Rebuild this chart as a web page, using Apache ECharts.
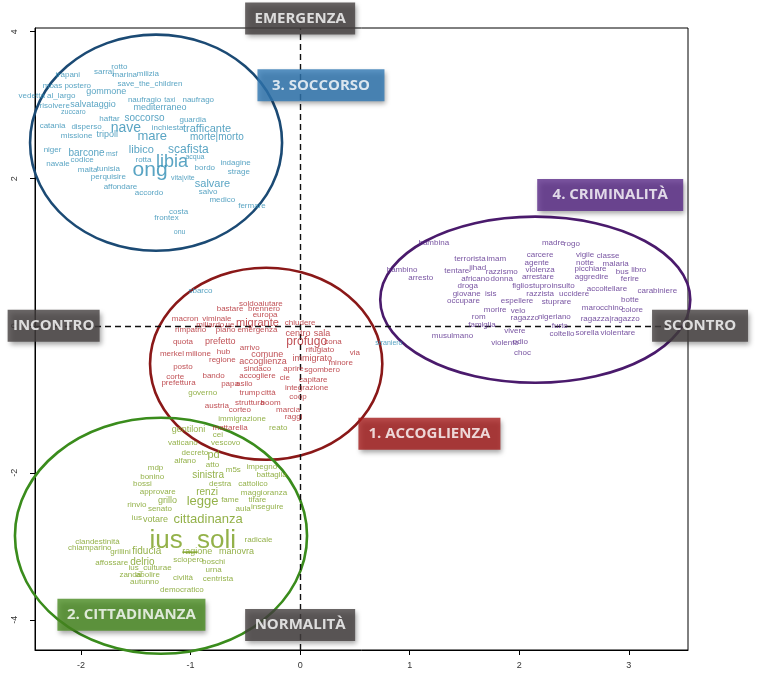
<!DOCTYPE html>
<html><head><meta charset="utf-8">
<script src="https://cdn.jsdelivr.net/npm/echarts@6/dist/echarts.min.js"></script>
<style>html,body{margin:0;padding:0;background:#fff}#c{width:761px;height:681px}</style>
</head><body><div id="c"></div>
<script>
// ---- DATA ----
const xTicks = [-2, -1, 0, 1, 2, 3];
const yTicks = [-4, -2, 0, 2, 4];

// [word, dim1, dim2, weight]
const soccorsoWords = [
  ["rotto",-1.65,3.52,2],["sarraj",-1.79,3.46,2],["marina",-1.60,3.41,2],["milizia",-1.39,3.43,2],
  ["trapani",-2.12,3.41,2],["save_the_children",-1.37,3.29,2],["moas",-2.26,3.27,2],["postero",-2.03,3.27,2],
  ["gommone",-1.77,3.18,3],["vedetta al_largo",-2.31,3.13,2],["naufragio",-1.42,3.07,2],["taxi",-1.19,3.07,1],
  ["naufrago",-0.93,3.07,2],["risolvere",-2.24,2.99,2],["salvataggio",-1.89,3.01,3],["mediterraneo",-1.28,2.97,3],
  ["zuccaro",-2.07,2.91,1],["haftar",-1.74,2.82,2],["soccorso",-1.42,2.82,4],["guardia",-0.98,2.80,2],
  ["catania",-2.26,2.72,2],["disperso",-1.95,2.71,2],["nave",-1.59,2.69,8],["inchiesta",-1.21,2.69,2],
  ["trafficante",-0.85,2.68,5],["missione",-2.04,2.59,2],["tripoli",-1.76,2.60,3],["mare",-1.35,2.57,7],
  ["morte|morto",-0.76,2.57,4],["niger",-2.26,2.39,2],["barcone",-1.95,2.35,4],["msf",-1.72,2.33,1],
  ["libico",-1.45,2.39,5],["scafista",-1.02,2.39,6],["acqua",-0.96,2.30,1],["codice",-1.99,2.26,2],
  ["navale",-2.21,2.20,2],["rotta",-1.43,2.26,2],["libia",-1.17,2.23,12],["bordo",-0.87,2.15,2],
  ["indagine",-0.59,2.22,2],["strage",-0.56,2.10,2],["ong",-1.37,2.12,15],["malta",-1.94,2.12,2],
  ["tunisia",-1.75,2.14,2],["vita|vite",-1.07,2.01,1],["perquisire",-1.75,2.03,2],["salvare",-0.80,1.93,5],
  ["affondare",-1.64,1.89,2],["accordo",-1.38,1.81,2],["salvo",-0.84,1.82,2],["medico",-0.71,1.71,2],
  ["fermare",-0.44,1.63,2],["costa",-1.11,1.55,2],["frontex",-1.22,1.47,2],["onu",-1.10,1.27,1],
  ["sbarco",-0.91,0.48,2],["straniero",0.81,-0.23,1]
];

const criminalitaWords = [
  ["bambina",1.22,1.13,2],["madre",2.31,1.13,2],["rogo",2.48,1.12,2],["terrorista",1.55,0.91,2],
  ["imam",1.79,0.91,2],["carcere",2.19,0.97,2],["vigile",2.60,0.97,2],["classe",2.81,0.95,2],
  ["agente",2.16,0.86,2],["notte",2.60,0.86,2],["malaria",2.88,0.84,2],["bambino",0.93,0.76,2],
  ["tentare",1.43,0.75,2],["jihad",1.62,0.79,2],["razzismo",1.84,0.73,2],["violenza",2.19,0.76,2],
  ["picchiare",2.65,0.78,2],["bus",2.94,0.73,2],["libro",3.09,0.76,2],["arresto",1.10,0.65,2],
  ["africano",1.60,0.64,2],["donna",1.84,0.64,2],["arrestare",2.17,0.67,2],["aggredire",2.66,0.67,2],
  ["ferire",3.01,0.64,2],["droga",1.53,0.54,2],["figlio",2.01,0.54,2],["stupro",2.19,0.54,2],
  ["insulto",2.40,0.54,2],["accoltellare",2.80,0.50,2],["carabiniere",3.26,0.48,2],["giovane",1.52,0.44,2],
  ["isis",1.74,0.44,2],["razzista",2.19,0.44,2],["uccidere",2.50,0.44,2],["botte",3.01,0.35,2],
  ["occupare",1.49,0.34,2],["espellere",1.98,0.34,2],["stuprare",2.34,0.33,2],["morire",1.78,0.22,2],
  ["velo",1.99,0.20,2],["marocchino",2.76,0.24,2],["colore",3.03,0.22,2],["rom",1.63,0.12,2],
  ["ragazzo",2.05,0.11,2],["nigeriano",2.32,0.12,2],["ragazza|ragazzo",2.83,0.10,2],["famiglia",1.66,0.01,2],
  ["furto",2.37,0.0,2],["vivere",1.96,-0.07,2],["coltello",2.39,-0.11,2],["sorella",2.62,-0.10,2],
  ["violentare",2.90,-0.10,2],["musulmano",1.39,-0.14,2],["violento",1.87,-0.23,2],["odio",2.01,-0.22,2],
  ["choc",2.03,-0.37,2]
];

const accoglienzaWords = [
  ["soldo",-0.47,0.30,2],["aiutare",-0.27,0.30,2],["bastare",-0.64,0.23,2],["brennero",-0.33,0.23,2],
  ["europa",-0.32,0.15,2],["macron",-1.05,0.10,2],["viminale",-0.76,0.10,2],["migrante",-0.39,0.04,5],
  ["miliardo",-0.82,0.01,2],["ue",-0.64,0.01,2],["chiudere",0.0,0.04,2],["rimpatrio",-1.00,-0.05,2],
  ["piano",-0.68,-0.05,2],["emergenza",-0.39,-0.05,2],["centro",-0.02,-0.10,3],["sala",0.20,-0.10,3],
  ["profugo",0.06,-0.22,6],["cona",0.30,-0.22,2],["quota",-1.07,-0.22,2],["prefetto",-0.73,-0.22,3],
  ["arrivo",-0.46,-0.30,2],["rifugiato",0.18,-0.33,2],["via",0.50,-0.37,2],["merkel",-1.17,-0.38,2],
  ["milione",-0.93,-0.38,2],["hub",-0.70,-0.35,2],["comune",-0.30,-0.39,3],["immigrato",0.11,-0.44,3],
  ["regione",-0.71,-0.46,2],["accoglienza",-0.34,-0.49,3],["minore",0.37,-0.50,2],["posto",-1.07,-0.56,2],
  ["sindaco",-0.39,-0.59,2],["aprire",-0.06,-0.59,2],["sgombero",0.20,-0.60,2],["bando",-0.79,-0.68,2],
  ["accogliere",-0.39,-0.68,2],["corte",-1.14,-0.69,2],["cie",-0.14,-0.71,2],["capitare",0.12,-0.73,2],
  ["prefettura",-1.11,-0.78,2],["papa",-0.64,-0.79,2],["asilo",-0.51,-0.79,2],["integrazione",0.06,-0.84,2],
  ["trump",-0.46,-0.91,2],["città",-0.29,-0.91,2],["coop",-0.02,-0.97,2],["austria",-0.76,-1.09,2],
  ["struttura",-0.46,-1.05,2],["boom",-0.27,-1.05,2],["corteo",-0.55,-1.14,2],["marcia",-0.11,-1.14,2],
  ["raggi",-0.06,-1.24,2],["mattarella",-0.64,-1.39,2]
];

const cittadinanzaWords = [
  ["governo",-0.89,-0.91,2],["immigrazione",-0.53,-1.27,2],["reato",-0.20,-1.39,2],["gentiloni",-1.02,-1.41,3],
  ["cei",-0.75,-1.48,2],["vaticano",-1.07,-1.59,2],["vescovo",-0.68,-1.59,2],["decreto",-0.96,-1.73,2],
  ["pd",-0.79,-1.76,5],["alfano",-1.05,-1.84,2],["atto",-0.80,-1.89,2],["mdp",-1.32,-1.93,2],
  ["m5s",-0.61,-1.96,2],["impegno",-0.35,-1.92,2],["bonino",-1.35,-2.05,2],["sinistra",-0.84,-2.03,4],
  ["battaglia",-0.26,-2.03,2],["bossi",-1.44,-2.15,2],["destra",-0.73,-2.15,2],["cattolico",-0.43,-2.15,2],
  ["approvare",-1.30,-2.26,2],["renzi",-0.85,-2.27,4],["maggioranza",-0.33,-2.27,2],["grillo",-1.21,-2.38,3],
  ["legge",-0.89,-2.39,7],["fame",-0.64,-2.37,2],["tifare",-0.39,-2.37,2],["rinvio",-1.49,-2.44,2],
  ["senato",-1.28,-2.49,2],["aula",-0.52,-2.49,2],["inseguire",-0.30,-2.46,2],["ius",-1.49,-2.61,2],
  ["votare",-1.32,-2.63,3],["cittadinanza",-0.84,-2.63,7],["ius_soli",-0.98,-2.93,20],["radicale",-0.38,-2.91,2],
  ["clandestinità",-1.85,-2.94,2],["chiamparino",-1.92,-3.02,2],["grillini",-1.64,-3.07,2],["fiducia",-1.40,-3.07,4],
  ["ragione",-0.94,-3.07,3],["manovra",-0.58,-3.07,3],["affossare",-1.72,-3.22,2],["delrio",-1.44,-3.21,4],
  ["sciopero",-1.02,-3.18,2],["boschi",-0.79,-3.21,2],["ius_culturae",-1.37,-3.29,2],["urna",-0.79,-3.32,2],
  ["zanda",-1.55,-3.39,2],["abolire",-1.39,-3.39,2],["civiltà",-1.07,-3.43,2],["centrista",-0.75,-3.44,2],
  ["autunno",-1.42,-3.48,2],["democratico",-1.08,-3.59,2]
];

// [cluster, centre dim1, centre dim2, half-width, half-height]
const ellipses = [
  ["soccorso", -1.315, 2.49, 1.15, 1.47],
  ["criminalita", 2.146, 0.354, 1.415, 1.13],
  ["accoglienza", -0.31, -0.517, 1.06, 1.306],
  ["cittadinanza", -1.27, -2.857, 1.333, 1.605]
];

// [text, dim1, dim2, kind]
const annotations = [
  ["EMERGENZA", 0, 4.18, "axis"],
  ["NORMALITÀ", 0, -4.07, "axis"],
  ["INCONTRO", -2.25, 0, "axis"],
  ["SCONTRO", 3.65, 0, "axis"],
  ["3. SOCCORSO", 0.19, 3.27, "soccorso"],
  ["4. CRIMINALITÀ", 2.83, 1.78, "criminalita"],
  ["1. ACCOGLIENZA", 1.18, -1.47, "accoglienza"],
  ["2. CITTADINANZA", -1.54, -3.93, "cittadinanza"]
];

// ---- STYLES ----
const wordColor = {soccorso:'#2f8db4', criminalita:'#55288a', accoglienza:'#b0242a', cittadinanza:'#789e1c'};
const ringColor = {soccorso:'#1b4a74', criminalita:'#4a1a6c', accoglienza:'#8a1818', cittadinanza:'#3a8c1c'};
const boxColor = {axis:'#454040', soccorso:'#2f78b4', criminalita:'#5a2a88', accoglienza:'#a51c1c', cittadinanza:'#4a8c22'};
const boxWidth = {"EMERGENZA":110,"NORMALITÀ":110,"INCONTRO":92,"SCONTRO":96,"3. SOCCORSO":127,"4. CRIMINALITÀ":146,"1. ACCOGLIENZA":142,"2. CITTADINANZA":148};
const WORD_FONT = "'Liberation Sans', Arial, sans-serif";
const BOX_FONT = "'Liberation Sans Narrow', 'Open Sans', sans-serif";

function wordSeries(words, key) {
  return {
    type: 'scatter', clip: false, silent: true, z: 5,
    symbolSize: 1, itemStyle: {color: 'rgba(0,0,0,0)'},
    data: words.map(w => ({name: w[0], value: [w[1], w[2]], label: {fontSize: 6 + w[3]}})),
    label: {show: true, position: 'inside', formatter: p => p.name, color: wordColor[key], fontFamily: WORD_FONT},
    labelLayout: {hideOverlap: false}
  };
}

const chart = echarts.init(document.getElementById('c'), null, {renderer: 'canvas'});
chart.setOption({
  animation: false,
  backgroundColor: '#fff',
  grid: {left: 35, right: 73, top: 28, bottom: 31, show: true, borderColor: '#000', borderWidth: 1, backgroundColor: 'transparent'},
  xAxis: {
    type: 'value', min: -2.42, max: 3.54,
    axisLine: {show: true, onZero: false, lineStyle: {color: '#000', width: 1}},
    axisTick: {show: true, length: 5, customValues: xTicks, lineStyle: {color: '#000'}},
    axisLabel: {show: true, customValues: xTicks, fontSize: 9, color: '#333', margin: 11, fontFamily: WORD_FONT},
    splitLine: {show: false}
  },
  yAxis: {
    type: 'value', min: -4.41, max: 4.05,
    axisLine: {show: true, onZero: false, lineStyle: {color: '#000', width: 1}},
    axisTick: {show: true, length: 5, customValues: yTicks, lineStyle: {color: '#000'}},
    axisLabel: {show: true, customValues: yTicks, fontSize: 9, color: '#333', margin: 16, rotate: 90, fontFamily: WORD_FONT},
    splitLine: {show: false}
  },
  series: [
    {
      type: 'line', data: [], silent: true, z: 2,
      markLine: {
        silent: true, symbol: ['none', 'none'], label: {show: false},
        lineStyle: {color: '#111', type: [6, 4], width: 1.4},
        data: [{xAxis: 0}, {yAxis: 0}]
      }
    },
    {
      type: 'custom', clip: false, silent: true, z: 3,
      data: ellipses.map(e => ({name: e[0], value: [e[1], e[2], e[3], e[4]]})),
      encode: {x: 0, y: 1},
      renderItem: (params, api) => {
        const c = api.coord([api.value(0), api.value(1)]);
        const s = api.size([api.value(2), api.value(3)]);
        return {type: 'ellipse', shape: {cx: c[0], cy: c[1], rx: s[0], ry: s[1]},
                style: {fill: 'none', stroke: ringColor[ellipses[params.dataIndex][0]], lineWidth: 2.6}};
      }
    },
    wordSeries(soccorsoWords, 'soccorso'),
    wordSeries(criminalitaWords, 'criminalita'),
    wordSeries(accoglienzaWords, 'accoglienza'),
    wordSeries(cittadinanzaWords, 'cittadinanza'),
    {
      type: 'scatter', clip: false, silent: true, z: 10,
      symbolSize: 1, itemStyle: {color: 'rgba(0,0,0,0)'},
      data: annotations.map(a => ({
        name: a[0], value: [a[1], a[2]],
        label: {backgroundColor: boxColor[a[3]], width: boxWidth[a[0]]}
      })),
      label: {
        show: true, position: 'inside', formatter: p => p.name,
        color: '#fff', fontWeight: 'bold', fontSize: 15, fontFamily: BOX_FONT,
        height: 32, lineHeight: 32, align: 'center', verticalAlign: 'middle',
        shadowColor: 'rgba(0,0,0,0.45)', shadowBlur: 5, shadowOffsetX: 2, shadowOffsetY: 3
      },
      labelLayout: {hideOverlap: false}
    }
  ]
});
</script>
</body></html>
